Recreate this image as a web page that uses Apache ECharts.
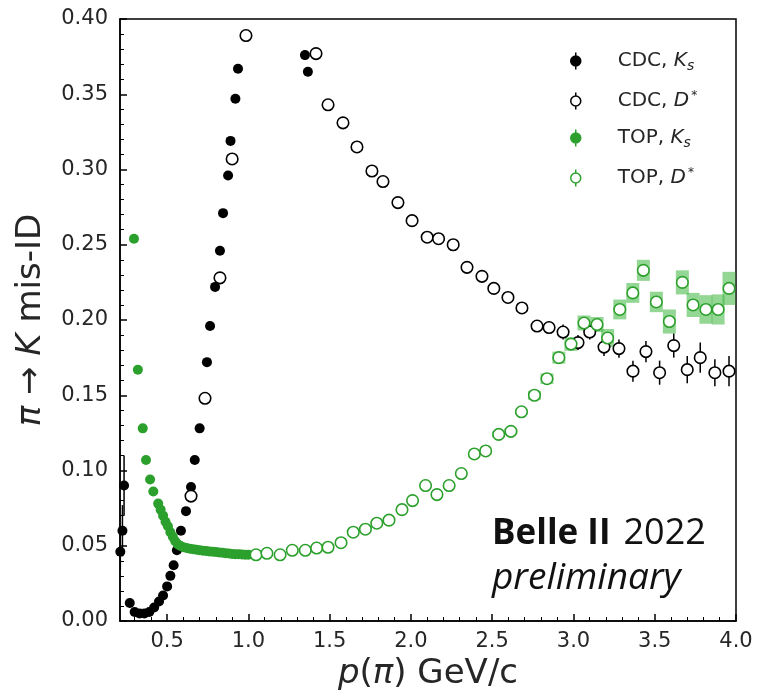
<!DOCTYPE html>
<html><head><meta charset="utf-8">
<script src="https://cdn.jsdelivr.net/npm/echarts@6.0.0/dist/echarts.min.js"></script>
<style>html,body{margin:0;padding:0;background:#fff}#c{width:759px;height:699px}</style>
</head><body><div id="c"></div>
<script>
// ---------- data ----------
const xMajorTicks = [0.5, 1.0, 1.5, 2.0, 2.5, 3.0, 3.5, 4.0];
const xMinorTicks = [0.3, 0.4, 0.6, 0.7, 0.8, 0.9, 1.1, 1.2, 1.3, 1.4, 1.6, 1.7, 1.8, 1.9, 2.1, 2.2, 2.3, 2.4, 2.6, 2.7, 2.8, 2.9, 3.1, 3.2, 3.3, 3.4, 3.6, 3.7, 3.8, 3.9];
const yRange = [0, 0.40];
const xRange = [0.21, 4.0];

const cdcKsX = [0.212, 0.225, 0.235, 0.27, 0.30, 0.33, 0.36, 0.39, 0.42, 0.45, 0.475, 0.50, 0.52, 0.54, 0.56, 0.585, 0.616, 0.647, 0.67, 0.70, 0.745, 0.764, 0.795, 0.825, 0.844, 0.875, 0.89, 0.92, 0.936, 1.348, 1.366];
const cdcKsY = [0.046, 0.060, 0.090, 0.012, 0.006, 0.005, 0.005, 0.006, 0.009, 0.013, 0.017, 0.023, 0.030, 0.037, 0.047, 0.060, 0.073, 0.089, 0.107, 0.128, 0.172, 0.196, 0.222, 0.246, 0.271, 0.296, 0.319, 0.347, 0.367, 0.376, 0.365];
const cdcKsErr = [0.012, 0.017, 0.020, 0.003, 0.002, 0.002, 0.002, 0.002, 0.002, 0.002, 0.002, 0.002, 0.002, 0.002, 0.002, 0.002, 0.002, 0.002, 0.002, 0.002, 0.002, 0.002, 0.002, 0.002, 0.002, 0.002, 0.002, 0.002, 0.002, 0.003, 0.003];

const cdcDsX = [0.647, 0.733, 0.825, 0.90, 0.985, 1.416, 1.49, 1.582, 1.668, 1.76, 1.828, 1.92, 2.007, 2.10, 2.17, 2.26, 2.345, 2.437, 2.51, 2.597, 2.683, 2.776, 2.85, 2.936, 3.028, 3.10, 3.188, 3.28, 3.366, 3.446, 3.53, 3.617, 3.70, 3.78, 3.87, 3.957];
const cdcDsY = [0.083, 0.148, 0.228, 0.307, 0.389, 0.377, 0.343, 0.331, 0.315, 0.299, 0.292, 0.278, 0.266, 0.255, 0.254, 0.250, 0.235, 0.229, 0.221, 0.215, 0.208, 0.196, 0.195, 0.192, 0.185, 0.192, 0.182, 0.181, 0.166, 0.179, 0.165, 0.183, 0.167, 0.175, 0.165, 0.166];
const cdcDsErr = [0.002, 0.002, 0.002, 0.002, 0.002, 0.002, 0.002, 0.002, 0.002, 0.002, 0.002, 0.002, 0.003, 0.003, 0.003, 0.003, 0.003, 0.003, 0.003, 0.003, 0.003, 0.004, 0.004, 0.005, 0.005, 0.005, 0.006, 0.006, 0.007, 0.007, 0.008, 0.008, 0.009, 0.010, 0.009, 0.010];

const topKsX = [0.296, 0.32, 0.35, 0.37, 0.395, 0.415, 0.445, 0.46, 0.475, 0.49, 0.505, 0.52, 0.535, 0.55, 0.565, 0.58, 0.60, 0.62, 0.64, 0.66, 0.68, 0.70, 0.72, 0.74, 0.76, 0.78, 0.80, 0.82, 0.84, 0.86, 0.88, 0.90, 0.92, 0.94, 0.96, 0.98, 1.00];
const topKsY = [0.254, 0.167, 0.128, 0.107, 0.094, 0.086, 0.078, 0.074, 0.070, 0.066, 0.063, 0.059, 0.056, 0.053, 0.051, 0.050, 0.049, 0.0485, 0.048, 0.0477, 0.0474, 0.047, 0.0467, 0.0465, 0.0462, 0.046, 0.0458, 0.0455, 0.0453, 0.045, 0.0448, 0.0446, 0.0444, 0.0443, 0.0442, 0.0441, 0.044];

const topDsX = [1.047, 1.114, 1.195, 1.27, 1.35, 1.42, 1.49, 1.57, 1.645, 1.72, 1.79, 1.865, 1.945, 2.01, 2.09, 2.16, 2.235, 2.31, 2.39, 2.46, 2.54, 2.615, 2.68, 2.76, 2.837, 2.91, 2.985, 3.065, 3.145, 3.21, 3.285, 3.365, 3.43, 3.51, 3.59, 3.67, 3.736, 3.815, 3.89, 3.957];
const topDsY = [0.044, 0.045, 0.044, 0.047, 0.047, 0.0485, 0.049, 0.052, 0.059, 0.061, 0.065, 0.067, 0.074, 0.080, 0.090, 0.084, 0.090, 0.098, 0.111, 0.113, 0.124, 0.126, 0.139, 0.150, 0.161, 0.175, 0.184, 0.198, 0.197, 0.188, 0.207, 0.218, 0.233, 0.212, 0.199, 0.225, 0.210, 0.207, 0.207, 0.221];
const topDsSys = [0, 0, 0, 0, 0, 0, 0, 0, 0, 0, 0, 0, 0, 0, 0, 0, 0, 0, 0, 0, 0.002, 0.002, 0.002, 0.003, 0.0035, 0.004, 0.0045, 0.005, 0.005, 0.006, 0.0066, 0.0066, 0.007, 0.0068, 0.008, 0.008, 0.008, 0.0095, 0.010, 0.011];

const seriesNames = ['CDC, Ks', 'CDC, D*', 'TOP, Ks', 'TOP, D*'];

// ---------- styling ----------
const BIN_HALF = 0.040;
const FONT = 'DejaVu Sans';
const TXT = '#262626';
const GREEN = '#2ca02c';
const zip3 = (a, b, c) => a.map((v, i) => [v, b[i], c ? c[i] : 0]);

function errRender(color) {
  return function (params, api) {
    const x = api.value(0), y = api.value(1), e = api.value(2);
    const p1 = api.coord([x, y - e]), p2 = api.coord([x, y + e]);
    return { type: 'line', shape: { x1: p1[0], y1: p1[1], x2: p2[0], y2: p2[1] },
      style: { stroke: color, lineWidth: 1.5 } };
  };
}
function sysRender(params, api) {
  const x = api.value(0), y = api.value(1), e = api.value(2);
  if (!e) return null;
  const a = api.coord([x - BIN_HALF, y + e]), b = api.coord([x + BIN_HALF, y - e]);
  return { type: 'rect', shape: { x: a[0], y: a[1], width: b[0] - a[0], height: b[1] - a[1] },
    style: { fill: 'rgba(60,180,60,0.55)' } };
}

const legendIcon = 'path://M5,0L5,3.5M5,13.5L5,17M5,3.5A5,5,0,1,1,5,13.5A5,5,0,1,1,5,3.5Z';
const legendRich = {
  gap: { width: 32 },
  n: { fontSize: 20, fontFamily: FONT, color: TXT },
  i: { fontSize: 20, fontFamily: FONT, color: TXT, fontStyle: 'italic' },
  sub: { fontSize: 14, fontFamily: FONT, color: TXT, fontStyle: 'italic', padding: [10, 0, 0, 0] },
  sup: { fontSize: 12, fontFamily: FONT, color: TXT, padding: [0, 0, 10, 2] }
};
const legendLabels = {
  'CDC, Ks': '{gap|}{n|CDC, }{i|K}{sub|s}',
  'CDC, D*': '{gap|}{n|CDC, }{i|D}{sup|*}',
  'TOP, Ks': '{gap|}{n|TOP, }{i|K}{sub|s}',
  'TOP, D*': '{gap|}{n|TOP, }{i|D}{sup|*}'
};
const axisNameRich = { i: { fontSize: 34, fontFamily: FONT, color: TXT, fontStyle: 'italic' } };

const chart = echarts.init(document.getElementById('c'), null, { renderer: 'canvas' });
chart.setOption({
  animation: false,
  backgroundColor: '#fff',
  grid: { left: 120, right: 23, top: 19, bottom: 78, show: true, borderColor: '#000', borderWidth: 1.5, backgroundColor: 'transparent' },
  legend: {
    orient: 'vertical', left: 570, top: 51, padding: 0, itemGap: 17, itemWidth: 10, itemHeight: 17,
    selectedMode: false, icon: legendIcon,
    formatter: n => legendLabels[n],
    textStyle: { rich: legendRich },
    data: [
      { name: seriesNames[0], itemStyle: { color: '#000', borderColor: '#000', borderWidth: 1.5 } },
      { name: seriesNames[1], itemStyle: { color: '#fff', borderColor: '#000', borderWidth: 1.5 } },
      { name: seriesNames[2], itemStyle: { color: GREEN, borderColor: GREEN, borderWidth: 1.5 } },
      { name: seriesNames[3], itemStyle: { color: '#fff', borderColor: GREEN, borderWidth: 1.5 } }
    ]
  },
  xAxis: [{
    type: 'value', min: xRange[0], max: xRange[1], position: 'bottom',
    splitLine: { show: false },
    axisLine: { show: true, lineStyle: { color: '#000', width: 1.5 } },
    axisTick: { show: true, inside: true, length: 7, customValues: xMajorTicks, lineStyle: { color: '#000', width: 1.5 } },
    axisLabel: { customValues: xMajorTicks, formatter: v => v.toFixed(1), fontSize: 21, fontFamily: FONT, color: TXT, margin: 10 },
    name: '{i|p}({i|π}) GeV/c', nameLocation: 'middle', nameGap: 36,
    nameTextStyle: { fontSize: 34, fontFamily: FONT, color: TXT, rich: axisNameRich }
  }, {
    type: 'value', min: xRange[0], max: xRange[1], position: 'bottom',
    splitLine: { show: false }, axisLine: { show: false },
    axisTick: { show: true, inside: true, length: 4, customValues: xMinorTicks, lineStyle: { color: '#000', width: 1 } },
    axisLabel: { show: false }
  }],
  yAxis: {
    type: 'value', min: yRange[0], max: yRange[1], interval: 0.05,
    splitLine: { show: false },
    axisLine: { show: true, lineStyle: { color: '#000', width: 1.5 } },
    axisTick: { show: true, inside: true, length: 7, lineStyle: { color: '#000', width: 1.5 } },
    minorTick: { show: true, splitNumber: 5, length: 4, lineStyle: { color: '#000', width: 1 } },
    axisLabel: { formatter: v => v.toFixed(2), fontSize: 21, fontFamily: FONT, color: TXT, margin: 12 },
    name: '{i|π} → {i|K} mis-ID', nameLocation: 'middle', nameGap: 72,
    nameTextStyle: { fontSize: 34, fontFamily: FONT, color: TXT, rich: axisNameRich }
  },
  graphic: [{
    type: 'text', left: 492, top: 516, silent: true,
    style: {
      text: '{b|Belle II}{sp|}{r|2022}\n{it|preliminary}',
      rich: {
        b: { fontSize: 35, fontFamily: 'Open Sans', fontWeight: 'bold', fill: '#111', lineHeight: 44 },
        sp: { width: 13, lineHeight: 44 },
        r: { fontSize: 36, fontFamily: 'Open Sans', fill: '#111', lineHeight: 44 },
        it: { fontSize: 37, fontFamily: 'Open Sans', fontStyle: 'italic', fill: '#111', lineHeight: 44 }
      }
    }
  }],
  series: [
    { type: 'custom', name: 'sys', renderItem: sysRender, data: zip3(topDsX, topDsY, topDsSys), clip: true, silent: true, z: 1 },
    { type: 'custom', name: 'errKs', renderItem: errRender('#000'), data: zip3(cdcKsX, cdcKsY, cdcKsErr), clip: true, silent: true, z: 2 },
    { type: 'custom', name: 'errDs', renderItem: errRender('#000'), data: zip3(cdcDsX, cdcDsY, cdcDsErr), clip: true, silent: true, z: 2 },
    { type: 'scatter', name: seriesNames[0], data: zip3(cdcKsX, cdcKsY), symbol: 'circle', symbolSize: 10, clip: true, z: 3,
      itemStyle: { color: '#000', opacity: 1 }, emphasis: { disabled: true } },
    { type: 'scatter', name: seriesNames[1], data: zip3(cdcDsX, cdcDsY), symbol: 'circle', symbolSize: 11.5, clip: true, z: 3,
      itemStyle: { color: '#fff', borderColor: '#000', borderWidth: 1.6, opacity: 1 }, emphasis: { disabled: true } },
    { type: 'scatter', name: seriesNames[2], data: zip3(topKsX, topKsY), symbol: 'circle', symbolSize: 10, clip: true, z: 4,
      itemStyle: { color: GREEN, opacity: 1 }, emphasis: { disabled: true } },
    { type: 'scatter', name: seriesNames[3], data: zip3(topDsX, topDsY), symbol: 'circle', symbolSize: 11.5, clip: true, z: 4,
      itemStyle: { color: '#fff', borderColor: GREEN, borderWidth: 1.6, opacity: 1 }, emphasis: { disabled: true } }
  ]
});
</script></body></html>
